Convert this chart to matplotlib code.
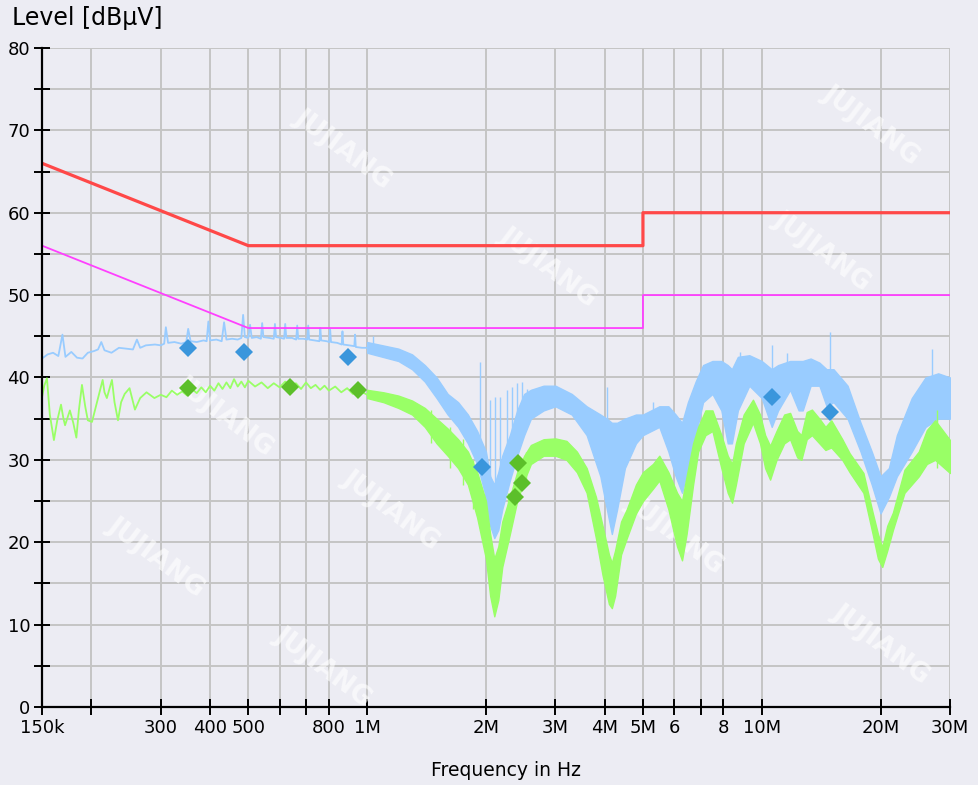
import matplotlib
matplotlib.use("Agg")
import matplotlib.pyplot as plt
from matplotlib.ticker import FixedLocator, FixedFormatter, MultipleLocator, NullLocator

# frequencies in MHz, levels in dBuV
tick_freqs = [0.15, 0.2, 0.3, 0.4, 0.5, 0.6, 0.7, 0.8, 1, 2, 3, 4, 5, 6, 7, 8, 10, 20, 30]
tick_labels = ['150k', '', '300', '400', '500', '', '', '800', '1M', '2M', '3M', '4M',
               '5M', '6', '', '8', '10M', '20M', '30M']

# limit lines (EN 55022 class B style)
limit_f = [0.15, 0.5, 5, 5, 30]
qp_limit = [66, 56, 56, 60, 60]
av_limit = [56, 46, 46, 50, 50]

# peak trace, low band (single line)
pk_line_f = [0.150, 0.155, 0.160, 0.165, 0.169, 0.172, 0.178, 0.184, 0.190, 0.196, 0.203, 0.208,
             0.212, 0.216, 0.225, 0.235, 0.245, 0.255, 0.261, 0.266, 0.275, 0.290, 0.300, 0.306,
             0.309, 0.313, 0.325, 0.338, 0.348, 0.352, 0.357, 0.370, 0.385, 0.392, 0.396, 0.400,
             0.415, 0.428, 0.434, 0.440, 0.455, 0.470, 0.480, 0.485, 0.490, 0.500, 0.505, 0.510,
             0.525, 0.538, 0.542, 0.546, 0.565, 0.580, 0.584, 0.588, 0.605, 0.616, 0.620, 0.624,
             0.645, 0.661, 0.665, 0.669, 0.690, 0.705, 0.709, 0.713, 0.735, 0.757, 0.761, 0.765,
             0.790, 0.802, 0.806, 0.810, 0.840, 0.862, 0.866, 0.870, 0.900, 0.928, 0.932, 0.936,
             0.970, 1.000]
pk_line_v = [42.3, 42.8, 43.0, 42.6, 45.2, 42.5, 43.1, 42.4, 42.3, 43.0, 43.2, 43.4,
             44.3, 43.3, 43.0, 43.6, 43.5, 43.4, 44.6, 43.6, 43.9, 44.0, 43.9, 44.1,
             46.1, 44.2, 44.3, 44.1, 44.3, 45.9, 44.4, 44.3, 44.5, 44.4, 46.8, 44.5,
             44.6, 44.4, 46.7, 44.6, 44.7, 44.6, 44.8, 47.6, 44.9, 44.8, 46.4, 44.8,
             44.9, 44.7, 46.6, 44.9, 44.8, 44.7, 46.5, 44.9, 44.8, 44.7, 46.5, 44.8,
             44.8, 44.6, 46.3, 44.7, 44.7, 44.6, 46.3, 44.6, 44.5, 44.4, 46.0, 44.5,
             44.4, 44.3, 45.8, 44.3, 44.2, 44.0, 45.6, 44.0, 43.9, 43.8, 45.2, 43.7,
             43.6, 43.6]

# peak trace, high band (min / max envelope)
pk_band_f = [1.0, 1.2, 1.3, 1.4, 1.5, 1.6, 1.7, 1.8, 1.9, 2.0, 2.05, 2.1, 2.15, 2.2, 2.3, 2.4,
             2.5, 2.6, 2.8, 3.0, 3.3, 3.6, 3.9, 4.05, 4.17, 4.3, 4.5, 4.8, 5.0, 5.5, 5.8, 6.05,
             6.28, 6.5, 6.8, 7.1, 7.5, 7.9, 8.2, 8.4, 8.7, 9.3, 10.0, 10.6, 11.0, 11.8, 12.4,
             12.7, 13.3, 14.0, 14.6, 15.2, 16.5, 17.8, 19.0, 20.0, 21.0, 22.0, 24.0, 26.0,
             28.0, 30.0]
pk_band_lo = [43.0, 42.0, 41.0, 39.5, 37.5, 35.5, 34.0, 32.0, 29.5, 25.5, 22.0, 20.5, 21.5,
              24.0, 27.5, 30.5, 33.0, 35.0, 36.0, 36.5, 35.5, 33.0, 28.0, 24.0, 21.0, 24.0,
              29.0, 32.0, 33.0, 34.0, 31.0, 28.0, 26.0, 29.0, 33.0, 37.0, 38.0, 36.0, 32.0,
              32.0, 36.0, 39.0, 37.5, 34.0, 36.0, 38.5, 36.0, 36.0, 39.0, 39.0, 36.5, 37.0,
              35.0, 31.0, 27.0, 23.5, 25.5, 28.0, 31.0, 34.0, 35.0, 35.0]
pk_band_hi = [44.3, 43.5, 42.8, 41.5, 40.0, 38.0, 37.0, 35.5, 33.5, 31.0, 28.0, 27.0, 28.5,
              30.5, 33.0, 36.0, 38.0, 38.5, 39.0, 39.0, 38.0, 36.5, 35.5, 35.0, 34.5, 34.5,
              35.0, 35.5, 35.5, 36.5, 36.5, 35.5, 34.5, 37.0, 39.5, 41.5, 42.0, 42.0, 41.5,
              41.0, 42.5, 42.7, 42.0, 41.0, 41.5, 42.0, 42.0, 42.0, 42.3, 41.8, 41.0, 41.0,
              39.0, 34.5, 31.0, 28.0, 29.0, 33.0, 37.5, 40.0, 40.5, 40.0]

# isolated peak spikes
pk_spike_f = [1.035, 1.93, 2.05, 2.11, 2.17, 2.26, 2.33, 2.40, 2.47, 2.54, 2.63, 2.74, 4.05,
              5.3, 8.8, 10.6, 11.6, 14.9, 27.0]
pk_spike_lo = [43.5, 30.0, 24.0, 22.0, 24.0, 28.0, 30.0, 32.0, 33.0, 35.0, 36.0, 36.0, 25.0,
               34.0, 38.0, 38.0, 39.0, 38.0, 38.0]
pk_spike_hi = [45.0, 41.9, 37.3, 37.6, 37.6, 38.5, 38.8, 39.3, 39.5, 38.6, 38.6, 38.2, 38.8,
               37.0, 43.1, 44.0, 43.0, 45.5, 43.5]

# average trace, low band (single line)
av_line_f = [0.150, 0.152, 0.1544, 0.157, 0.1608, 0.164, 0.1676, 0.1700, 0.1716, 0.1765, 0.180,
             0.1833, 0.186, 0.1894, 0.193, 0.196, 0.2008, 0.2137, 0.216, 0.219, 0.2256, 0.229,
             0.2337, 0.238, 0.243, 0.250, 0.258, 0.266, 0.276, 0.289, 0.300, 0.310, 0.320,
             0.330, 0.340, 0.350, 0.360, 0.370, 0.380, 0.390, 0.400, 0.410, 0.420, 0.430,
             0.440, 0.450, 0.460, 0.470, 0.480, 0.490, 0.500, 0.520, 0.540, 0.560, 0.580,
             0.600, 0.620, 0.640, 0.660, 0.680, 0.700, 0.720, 0.740, 0.760, 0.780, 0.800,
             0.830, 0.860, 0.890, 0.920, 0.950, 1.000]
av_line_v = [37.6, 39.0, 39.9, 35.5, 32.4, 34.8, 36.7, 35.0, 34.2, 36.0, 34.5,
             32.7, 36.0, 39.1, 36.5, 34.8, 34.6, 39.7, 38.2, 37.5, 39.7, 37.0,
             34.8, 37.0, 38.0, 38.7, 36.1, 37.5, 38.2, 37.5, 37.9, 37.6, 38.4,
             37.9, 38.3, 37.8, 38.6, 38.1, 38.8, 38.2, 39.0, 38.4, 39.3, 38.6,
             39.4, 38.7, 39.8, 38.9, 39.5, 38.8, 39.6, 38.9, 39.4, 38.7, 39.3,
             38.8, 39.5, 38.9, 39.3, 38.6, 39.4, 38.7, 39.1, 38.5, 39.0, 38.4,
             38.9, 38.2, 38.7, 38.0, 38.5, 37.9]

# average trace, high band (min / max envelope)
av_band_f = [1.0, 1.1, 1.2, 1.3, 1.4, 1.5, 1.6, 1.7, 1.8, 1.9, 2.0, 2.05, 2.1, 2.15, 2.2, 2.3,
             2.4, 2.5, 2.6, 2.8, 3.0, 3.2, 3.4, 3.6, 3.8, 3.95, 4.1, 4.17, 4.25, 4.4, 4.55,
             4.8, 5.0, 5.3, 5.5, 5.8, 6.1, 6.28, 6.45, 6.7, 6.9, 7.2, 7.5, 7.9, 8.2, 8.41,
             8.6, 9.0, 9.5, 9.9, 10.2, 10.5, 10.9, 11.4, 11.8, 12.3, 12.6, 13.0, 13.4, 14.0,
             14.5, 15.0, 16.0, 16.7, 18.1, 19.1, 19.7, 20.2, 20.8, 21.5, 23.0, 25.0, 26.2,
             27.5, 30.0]
av_band_lo = [37.5, 37.0, 36.3, 35.5, 34.0, 32.0, 30.5, 29.0, 27.0, 23.0, 18.0, 13.5, 11.0,
              13.0, 17.0, 21.0, 25.0, 27.5, 29.5, 30.5, 30.5, 30.0, 28.5, 26.0, 20.5, 16.0,
              12.5, 12.0, 13.5, 18.5, 20.5, 23.5, 25.0, 26.5, 27.5, 24.0, 19.5, 17.8, 21.0,
              27.0, 31.0, 33.0, 33.5, 29.0, 26.0, 24.8, 27.0, 32.0, 34.5, 32.0, 29.0, 27.6,
              30.0, 32.0, 32.5, 30.3, 30.0, 32.5, 33.0, 32.0, 31.2, 31.5, 30.0, 28.5, 26.0,
              21.0, 18.0, 17.0, 19.0, 21.5, 26.0, 28.0, 29.5, 30.0, 28.4]
av_band_hi = [38.5, 38.2, 37.8, 37.2, 36.3, 35.0, 33.8, 32.5, 31.0, 28.5, 25.0, 21.0, 18.0,
              19.5, 22.5, 25.5, 28.5, 30.5, 31.8, 32.5, 32.6, 32.3, 31.0, 29.0, 25.5, 22.0,
              18.5, 17.5, 19.0, 22.5, 24.0, 27.0, 28.5, 29.5, 30.5, 28.5, 26.0, 25.0, 28.0,
              32.0, 34.0, 36.0, 36.0, 33.0, 30.5, 29.5, 32.0, 35.5, 37.3, 35.5, 33.0, 31.7,
              33.5, 35.5, 35.7, 33.5, 33.0, 35.8, 36.1, 35.0, 34.0, 34.8, 32.5, 30.8, 28.4,
              23.6, 21.0, 19.4, 22.0, 23.6, 28.8, 31.0, 33.6, 34.8, 32.4]

# isolated average spikes
av_spike_f = [1.45, 1.62, 1.75, 1.85, 2.28, 2.52, 27.8]
av_spike_lo = [32.0, 29.0, 27.0, 24.0, 20.0, 27.0, 29.0]
av_spike_hi = [36.0, 34.0, 32.5, 30.0, 26.0, 31.0, 36.0]

# final measurement points
qp_f = [0.352, 0.487, 0.894, 1.955, 10.6, 14.9]
qp_v = [43.6, 43.1, 42.5, 29.1, 37.6, 35.8]
av_f = [0.352, 0.638, 0.948, 2.41, 2.47, 2.37]
av_v = [38.7, 38.8, 38.5, 29.6, 27.2, 25.5]

# watermark anchor points (figure fraction)
wm_x = [0.35, 0.89, 0.56, 0.84, 0.40, 0.16, 0.90, 0.33, 0.69, 0.23]
wm_y = [0.81, 0.84, 0.66, 0.68, 0.35, 0.29, 0.18, 0.15, 0.32, 0.47]

bg = '#ececf3'
pk_col = '#99ccff'
av_col = '#99ff66'

fig = plt.figure(figsize=(9.79, 7.85), dpi=100, facecolor=bg)
ax = fig.add_axes([0.0429, 0.0994, 0.9275, 0.8395])
ax.set_facecolor(bg)
ax.set_axisbelow(True)

for x, y in zip(wm_x, wm_y):
    ax.text(x, y, 'JUJIANG', transform=fig.transFigure, rotation=-37, fontsize=19,
            fontweight='bold', color='white', alpha=0.6, ha='center', va='center',
            clip_on=False, zorder=0.8)

ax.fill_between(pk_band_f, pk_band_lo, pk_band_hi, color=pk_col, lw=1.0, zorder=2)
ax.plot(pk_line_f, pk_line_v, color=pk_col, lw=1.3, zorder=2)
ax.vlines(pk_spike_f, pk_spike_lo, pk_spike_hi, color=pk_col, lw=1.0, zorder=2)

ax.fill_between(av_band_f, av_band_lo, av_band_hi, color=av_col, lw=1.0, zorder=2.1)
ax.plot(av_line_f, av_line_v, color=av_col, lw=1.3, zorder=2.1)
ax.vlines(av_spike_f, av_spike_lo, av_spike_hi, color=av_col, lw=1.0, zorder=2.1)

ax.plot(limit_f, qp_limit, color='#ff4848', lw=2.3, zorder=3)
ax.plot(limit_f, av_limit, color='#ff40ff', lw=1.3, zorder=3)

ax.plot(qp_f, qp_v, 'D', color='#3a96dc', ms=9.5, mew=0, zorder=4)
ax.plot(av_f, av_v, 'D', color='#5cbf2a', ms=9.5, mew=0, zorder=4)

ax.set_xscale('log')
ax.set_xlim(0.15, 30)
ax.set_ylim(0, 80)

ax.xaxis.set_major_locator(FixedLocator(tick_freqs))
ax.xaxis.set_major_formatter(FixedFormatter(tick_labels))
ax.xaxis.set_minor_locator(NullLocator())
ax.yaxis.set_major_locator(MultipleLocator(10))
ax.yaxis.set_minor_locator(MultipleLocator(5))

ax.grid(True, which='major', color='#c4c4c4', lw=1.4)
ax.grid(True, which='minor', axis='y', color='#c4c4c4', lw=1.4)

for side in ['top', 'right']:
    ax.spines[side].set_visible(False)
for side in ['left', 'bottom']:
    ax.spines[side].set_linewidth(1.6)
    ax.spines[side].set_color('black')
    ax.spines[side].set_zorder(5)

ax.tick_params(axis='both', which='both', direction='inout', length=11, width=1.4,
               color='black', labelsize=13, pad=3)
ax.tick_params(axis='y', which='minor', length=11)

fig.text(12 / 979, 1 - 18 / 785, 'Level [dBµV]', fontsize=17, ha='left', va='center')
ax.set_xlabel('Frequency in Hz', fontsize=13.5)
ax.xaxis.set_label_coords(0.511, -0.082)

fig.savefig('out.png', dpi=100, facecolor=bg)
